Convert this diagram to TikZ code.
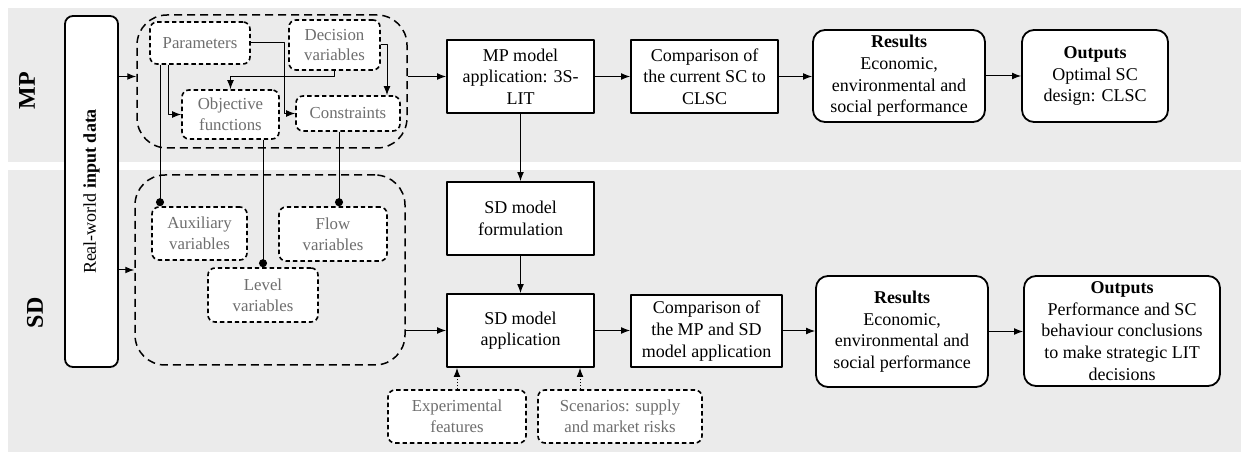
\documentclass[tikz,border=0pt]{standalone}
\usepackage{fontspec}
\setmainfont{Liberation Serif}
\usetikzlibrary{arrows.meta}
\definecolor{band}{HTML}{EBEBEB}
\definecolor{soft}{HTML}{6E6E6E}
\tikzset{
  every picture/.style={line join=round},
  sz/.style 2 args={minimum width=#1*0.5pt,minimum height=#2*0.5pt},
  box/.style={draw,line width=0.9pt,fill=white,align=center,inner sep=1pt,
    font=\fontsize{9}{10.8}\selectfont},
  rbox/.style={box,rounded corners=6pt},
  dbox/.style={draw,dash pattern=on 2.2pt off 1.5pt,line width=0.8pt,fill=white,
    rounded corners=3.5pt,align=center,inner sep=1pt,text=soft,
    font=\fontsize{8.4}{10.4}\selectfont},
  group/.style={draw,dash pattern=on 4pt off 2.5pt,line width=0.75pt,rounded corners=15pt},
  side/.style={font=\bfseries\fontsize{12}{14}\selectfont,rotate=90},
}
\begin{document}
\begin{tikzpicture}[x=0.5pt,y=-0.5pt,->,>={Latex[length=4.5pt,width=3.4pt]},line width=0.5pt]
\useasboundingbox(0,0)rectangle(1241,453);
\fill[band](8,8)rectangle(1241,162);
\fill[band](8,170)rectangle(1241,452);
\node[side](mp)at(27,91){MP};
\node[side](sd)at(35,313){SD};
\node[rbox,rounded corners=4pt,sz={53}{351}](inp)at(91.5,191.5){};
\node[rotate=90,font=\fontsize{9}{10.8}\selectfont](inptxt)at(inp.center){Real-world \textbf{input data}};
% the two dashed groups go first so the boxes sit on top
\node[group,sz={270}{133}](mpg)at(272,81.5){};
\node[group,sz={270}{190}](sdg)at(270,270){};
\node[dbox,sz={100}{42}](par)at(200,43){Parameters};
\node[dbox,sz={91}{50}](dec)at(334.5,45){Decision\\variables};
\node[dbox,sz={97}{49}](obj)at(230.5,114.5){Objective\\functions};
\node[dbox,sz={104}{35}](con)at(348,113.5){Constraints};
\node[dbox,sz={95}{53}](aux)at(199.5,233.5){Auxiliary\\variables};
\node[dbox,sz={108}{54}](flo)at(333,234){Flow\\variables};
\node[dbox,sz={110}{54}](lev)at(263,295){Level\\variables};
\node[dbox,sz={138}{53}](exp)at(457,416.5){Experimental\\features};
\node[dbox,sz={164}{53}](sce)at(620,416.5){Scenarios: supply\\and market risks};
\node[box,sz={147}{73}](mpm)at(520.5,76.5){MP model\\application: 3S-\\LIT};
\node[box,sz={147}{73}](cmp)at(704.5,76.5){Comparison of\\the current SC to\\CLSC};
\node[rbox,sz={172}{92}](res)at(899,76){\textbf{Results}\\Economic,\\environmental and\\social performance};
\node[rbox,sz={146}{92}](out)at(1095,76){\textbf{Outputs}\\Optimal SC\\design: CLSC};
\node[box,sz={147}{73}](sdf)at(520.5,218.5){SD model\\formulation};
\node[box,sz={147}{73}](sda)at(520.5,330.5){SD model\\application};
\node[box,sz={151}{72}](csd)at(706.5,331){Comparison of\\the MP and SD\\model application};
\node[rbox,sz={172}{111}](rsd)at(902,331.5){\textbf{Results}\\Economic,\\environmental and\\social performance};
\node[rbox,sz={196}{110}](osd)at(1122,331){\textbf{Outputs}\\Performance and SC\\behaviour conclusions\\to make strategic LIT\\decisions};
\draw(inp.east|-mpm.west)--(mpg.west|-mpm.west);
\draw(inp.east|-sdg.west)--(sdg.west);
\draw(par.east)--++(34,0)|-(con.west);
\draw([xshift=-16pt]par.south)|-(obj.west);
\draw(dec.south)--++(0,6)-|(obj.north);
\draw(dec.east)-|([xshift=19.5pt]con.north);
\draw[-{Circle[length=4pt]}]([xshift=-20pt]par.south)--([xshift=-20pt]par.south|-aux.north);
\draw[-{Circle[length=4pt]}](obj.south-|lev.north)--(lev.north);
\draw[-{Circle[length=4pt]}]([xshift=-4.5pt]con.south)--([xshift=-4.5pt]con.south|-flo.north);
\draw(mpg.east|-mpm.west)--(mpm.west);
\draw(mpm)--(cmp);
\draw(cmp.east)--(cmp.east-|res.west);
\draw(res)--(out);
\draw(mpm)--(sdf);
\draw(sdf)--(sda);
\draw(sdg.east|-sda.west)--(sda.west);
\draw(sda.east)--(sda.east-|csd.west);
\draw(csd.east)--(csd.east-|rsd.west);
\draw(rsd.east)--(rsd.east-|osd.west);
\draw[densely dotted](exp.north)--(exp.north|-sda.south);
\draw[densely dotted]([xshift=-20pt]sce.north)--([xshift=-20pt]sce.north|-sda.south);
\end{tikzpicture}
\end{document}
